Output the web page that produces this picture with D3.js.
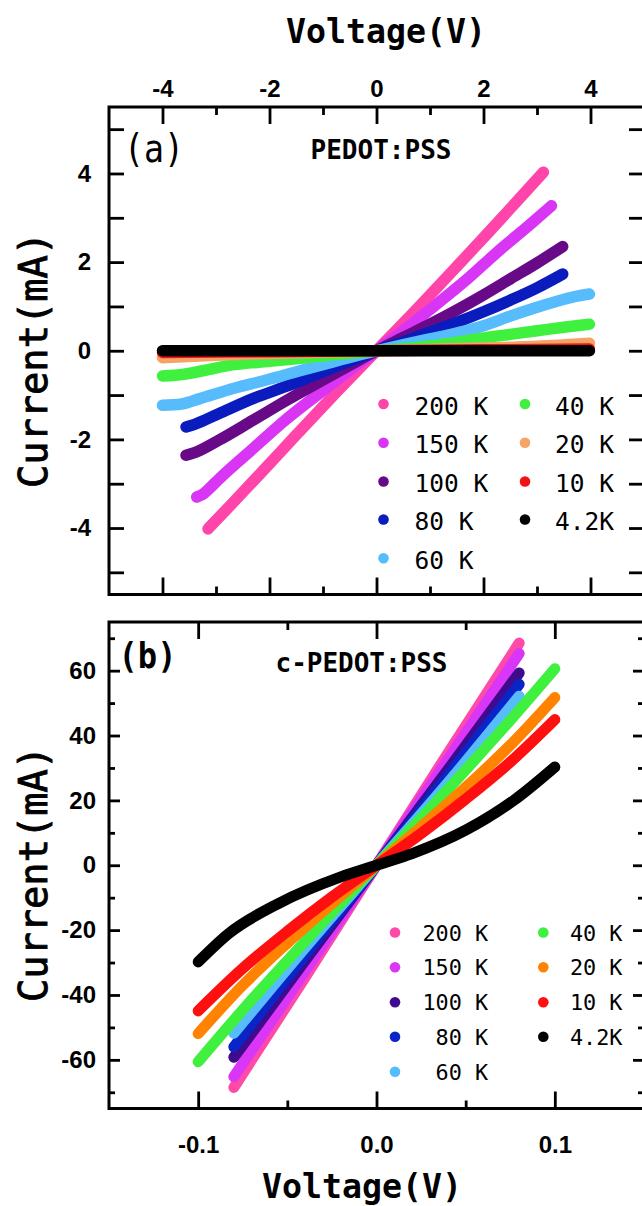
<!DOCTYPE html>
<html>
<head>
<meta charset="utf-8">
<script src="https://cdn.jsdelivr.net/npm/d3@7"></script>
<style>
  html, body { margin: 0; padding: 0; background: #fff; }
  svg { display: block; }
  .tick text { font-family: "Liberation Sans", Arial, sans-serif; font-weight: bold; font-size: 24px; fill: #000; }
  .tick line { stroke: #000; stroke-width: 2.8px; }
  .mono { font-family: "DejaVu Sans Mono", monospace; fill: #000; }
</style>
</head>
<body>
<svg id="fig" width="642" height="1206"></svg>
<script>
// ---------- series labels and colours ----------
const seriesLabels = ["200 K", "150 K", "100 K", "80 K", "60 K", "40 K", "20 K", "10 K", "4.2K"];
const seriesLabelsB = ["200 K", "150 K", "100 K", " 80 K", " 60 K", "40 K", "20 K", "10 K", "4.2K"];
const paletteA = ["#ff45aa", "#d935f5", "#680a87", "#0a1cbe", "#56bcfb", "#3ff03f", "#f5a465", "#f01414", "#000000"];
const paletteB = ["#ff4aa8", "#d936f7", "#3f0a8c", "#0a24c8", "#56bcfb", "#3ff03f", "#ff8200", "#ff1010", "#000000"];

// ---------- (a) PEDOT:PSS, [voltage V, current mA] ----------
const pedot200K = [[-3.15,-4.02],[-2.7,-3.45],[-2.1,-2.68],[-1.5,-1.9],[-0.8,-1.0],[0,0],[0.8,1.0],[1.5,1.9],[2.1,2.68],[2.7,3.47],[3.12,4.03]];
const pedot150K = [[-3.36,-3.30],[-3.25,-3.24],[-3.1,-3.08],[-2.95,-2.9],[-2.3,-2.2],[-1.7,-1.56],[-1.0,-0.9],[-0.45,-0.4],[0,0],[0.5,0.45],[1.0,0.93],[1.7,1.62],[2.3,2.27],[2.9,2.88],[3.27,3.27]];
const pedot100K = [[-3.56,-2.36],[-3.4,-2.3],[-2.95,-2.02],[-2.31,-1.57],[-1.68,-1.12],[-1.0,-0.66],[-0.43,-0.28],[0,0],[0.5,0.3],[1.0,0.6],[1.5,0.92],[2.0,1.26],[2.5,1.62],[3.0,1.98],[3.48,2.35]];
const pedot80K  = [[-3.56,-1.72],[-3.4,-1.66],[-2.95,-1.42],[-2.31,-1.08],[-1.68,-0.8],[-1.06,-0.5],[-0.43,-0.2],[0,0],[0.5,0.2],[1.0,0.42],[1.5,0.64],[2.0,0.88],[2.5,1.14],[3.0,1.42],[3.48,1.73]];
const pedot60K  = [[-4.0,-1.23],[-3.64,-1.2],[-3.3,-1.08],[-2.68,-0.85],[-2.06,-0.66],[-1.43,-0.45],[-0.81,-0.25],[0,0],[0.8,0.22],[1.4,0.37],[1.94,0.54],[2.5,0.78],[3.0,0.98],[3.36,1.11],[3.7,1.22],[3.98,1.28]];
const pedot40K  = [[-4.0,-0.57],[-3.6,-0.53],[-3.2,-0.44],[-2.7,-0.32],[-2.0,-0.24],[-1.4,-0.17],[-0.7,-0.08],[0,0],[0.7,0.07],[1.4,0.17],[1.94,0.28],[2.5,0.37],[3.0,0.45],[3.5,0.53],[3.98,0.6]];
const pedot20K  = [[-4.0,-0.16],[-3.0,-0.1],[-2.0,-0.06],[-1.0,-0.03],[0,0],[1.0,0.03],[2.0,0.06],[3.0,0.1],[3.98,0.17]];
const pedot10K  = [[-4.0,-0.04],[-2.0,-0.02],[0,0],[2.0,0.02],[3.98,0.04]];
const pedot4K   = [[-4.0,0],[-2.0,0],[0,0],[2.0,0],[3.98,0]];

// ---------- (b) c-PEDOT:PSS, [voltage V, current mA] ----------
const cpedot200K = [[-0.08,-68.5],[-0.04,-34.5],[0,0],[0.04,34.5],[0.08,68.5]];
const cpedot150K = [[-0.08,-65.2],[-0.04,-32.6],[0,0],[0.04,32.6],[0.08,65.3]];
const cpedot100K = [[-0.08,-59.2],[-0.04,-29.4],[0,0],[0.04,29.4],[0.08,59.3]];
const cpedot80K  = [[-0.08,-56.0],[-0.04,-27.6],[0,0],[0.04,27.6],[0.08,55.8]];
const cpedot60K  = [[-0.08,-51.8],[-0.04,-25.4],[0,0],[0.04,25.4],[0.08,52.1]];
const cpedot40K  = [[-0.1,-60.6],[-0.075,-44.6],[-0.05,-29.4],[-0.025,-14.5],[0,0],[0.025,14.5],[0.05,29.4],[0.075,44.7],[0.1,60.6]];
const cpedot20K  = [[-0.1,-51.9],[-0.075,-37.0],[-0.05,-24.0],[-0.025,-11.8],[0,0],[0.025,11.8],[0.05,24.0],[0.075,37.0],[0.1,51.7]];
const cpedot10K  = [[-0.1,-44.9],[-0.075,-31.8],[-0.05,-20.4],[-0.025,-9.8],[0,0],[0.025,9.8],[0.05,20.4],[0.075,31.8],[0.1,44.9]];
const cpedot4K   = [[-0.1,-29.8],[-0.083,-21.1],[-0.055,-11.8],[-0.02,-3.6],[0,0],[0.02,3.6],[0.05,10.8],[0.077,20.0],[0.1,30.3]];

// ---------- tick values ----------
const ticksVA = [-4, -2, 0, 2, 4];
const minorVA = [-3, -1, 1, 3];
const ticksIA = [-5, -4, -3, -2, -1, 0, 1, 2, 3, 4, 5];
const labelIA = [-4, -2, 0, 2, 4];
const ticksVB = [-0.1, 0, 0.1];
const minorVB = [-0.05, 0.05];
const ticksIB = [-60, -40, -20, 0, 20, 40, 60];
const minorIB = [-70, -50, -30, -10, 10, 30, 50, 70];

const seriesA = [pedot200K, pedot150K, pedot100K, pedot80K, pedot60K, pedot40K, pedot20K, pedot10K, pedot4K];
const seriesB = [cpedot200K, cpedot150K, cpedot100K, cpedot80K, cpedot60K, cpedot40K, cpedot20K, cpedot10K, cpedot4K];

const svg = d3.select("#fig");

// curves first, then the frame on top
function drawPanel(opts) {
  const { x, y, data, colors, stroke } = opts;
  const g = svg.append("g");
  const [xl, xr] = x.range();
  const [yb, yt] = y.range();

  const line = d3.line().x(d => x(d[0])).y(d => y(d[1])).curve(d3.curveMonotoneX);
  g.append("g").selectAll("path").data(data).join("path")
    .attr("d", line)
    .attr("fill", "none")
    .attr("stroke", (d, i) => colors[i])
    .attr("stroke-width", stroke)
    .attr("stroke-linecap", "round")
    .attr("stroke-linejoin", "round");

  g.append("rect")
    .attr("x", xl).attr("y", yt).attr("width", xr - xl).attr("height", yb - yt)
    .attr("fill", "none").attr("stroke", "#000").attr("stroke-width", 3);
  return g;
}

function axisGroup(g, axis, tx, ty) {
  const a = g.append("g").attr("transform", `translate(${tx},${ty})`).call(axis);
  a.select(".domain").remove();
  return a;
}

// ================= panel (a) =================
const xA = d3.scaleLinear().domain([-5, 5]).range([109, 644]);
const yA = d3.scaleLinear().domain([-5.5, 5.5]).range([594.5, 107]);
const gA = drawPanel({ x: xA, y: yA, data: seriesA, colors: paletteA, stroke: 11.5 });

axisGroup(gA, d3.axisTop(xA).tickValues(ticksVA).tickSize(-17).tickPadding(10.3).tickFormat(d => String(d)), 0, 107);
axisGroup(gA, d3.axisTop(xA).tickValues(minorVA).tickSize(-8).tickFormat(""), 0, 107);
axisGroup(gA, d3.axisBottom(xA).tickValues(ticksVA).tickSize(-17).tickFormat(""), 0, 594.5);
axisGroup(gA, d3.axisBottom(xA).tickValues(minorVA).tickSize(-8).tickFormat(""), 0, 594.5);
axisGroup(gA, d3.axisLeft(yA).tickValues(ticksIA).tickSize(-15).tickPadding(18)
  .tickFormat(d => labelIA.includes(d) ? String(d) : ""), 109, 0);
axisGroup(gA, d3.axisRight(yA).tickValues(ticksIA).tickSize(-15).tickFormat(""), 644, 0);

// ================= panel (b) =================
const xB = d3.scaleLinear().domain([-0.15, 0.15]).range([109, 644]);
const yB = d3.scaleLinear().domain([-75, 75]).range([1108.5, 622]);
const gB = drawPanel({ x: xB, y: yB, data: seriesB, colors: paletteB, stroke: 11 });

axisGroup(gB, d3.axisTop(xB).tickValues(ticksVB).tickSize(-17).tickFormat(""), 0, 622);
axisGroup(gB, d3.axisTop(xB).tickValues(minorVB).tickSize(-8).tickFormat(""), 0, 622);
axisGroup(gB, d3.axisBottom(xB).tickValues(ticksVB).tickSize(-17).tickPadding(27.5).tickFormat(d => d.toFixed(1)), 0, 1108.5);
axisGroup(gB, d3.axisBottom(xB).tickValues(minorVB).tickSize(-8).tickFormat(""), 0, 1108.5);
axisGroup(gB, d3.axisLeft(yB).tickValues(ticksIB).tickSize(-11).tickPadding(13).tickFormat(d => String(d)), 109, 0);
axisGroup(gB, d3.axisLeft(yB).tickValues(minorIB).tickSize(-6).tickFormat(""), 109, 0);
axisGroup(gB, d3.axisRight(yB).tickValues(ticksIB).tickSize(-11).tickFormat(""), 644, 0);
axisGroup(gB, d3.axisRight(yB).tickValues(minorIB).tickSize(-6).tickFormat(""), 644, 0);

// ================= titles and labels =================
// text with a fixed advance: font size sets the height, textLength sets the width
function label(o) {
  const t = svg.append("text").attr("class", "mono")
    .attr("font-size", o.size).attr("font-weight", o.weight || "normal")
    .attr("text-anchor", o.anchor || "start")
    .attr("xml:space", "preserve")
    .style("white-space", "pre")
    .text(o.text);
  if (o.len) t.attr("textLength", o.len).attr("lengthAdjust", "spacingAndGlyphs");
  if (o.halo) t.attr("stroke", "#000").attr("stroke-width", o.halo);
  if (o.rotate) t.attr("transform", `translate(${o.x},${o.y}) rotate(-90)`);
  else t.attr("x", o.x).attr("y", o.y);
  return t;
}
label({ text: "Voltage(V)", x: 386, y: 43.3, size: 34, weight: "bold", anchor: "middle", len: 200 });
label({ text: "Voltage(V)", x: 362, y: 1197.5, size: 34, weight: "bold", anchor: "middle", len: 200 });
label({ text: "Current(mA)", x: 46.7, y: 360, size: 39, anchor: "middle", len: 256, halo: 0.9, rotate: true });
label({ text: "Current(mA)", x: 46.7, y: 874, size: 39, anchor: "middle", len: 256, halo: 0.9, rotate: true });
label({ text: "(a)", x: 124, y: 161.7, size: 39, len: 60 });
label({ text: "(b)", x: 118.5, y: 668.3, size: 35, weight: "bold", len: 58 });
label({ text: "PEDOT:PSS", x: 310.5, y: 158.5, size: 27, weight: "bold", len: 141 });
label({ text: "c-PEDOT:PSS", x: 275.5, y: 671.7, size: 27, weight: "bold", len: 172 });

// ================= legends =================
function legend(items, colors, cols, rows, size, r, dy) {
  const g = svg.append("g");
  items.forEach((txt, i) => {
    const c = i < 5 ? 0 : 1;
    const row = i < 5 ? i : i - 5;
    g.append("circle").attr("cx", cols[c].dot).attr("cy", rows[row]).attr("r", r).attr("fill", colors[i]);
    g.append("text").attr("class", "mono")
      .attr("x", cols[c].text).attr("y", rows[row]).attr("dy", dy)
      .attr("font-size", size)
      .attr("xml:space", "preserve").style("white-space", "pre")
      .text(txt);
  });
}
legend(seriesLabels, paletteA,
  [{ dot: 383.5, text: 414.5 }, { dot: 525, text: 555 }],
  [404, 442.7, 481.5, 519.5, 558.3], 24.5, 5.3, "0.43em");
legend(seriesLabelsB, paletteB,
  [{ dot: 395, text: 422.5 }, { dot: 543.3, text: 570 }],
  [932.5, 967.3, 1002.3, 1036.8, 1071.7], 21.8, 5.3, "0.37em");
</script>
</body>
</html>
